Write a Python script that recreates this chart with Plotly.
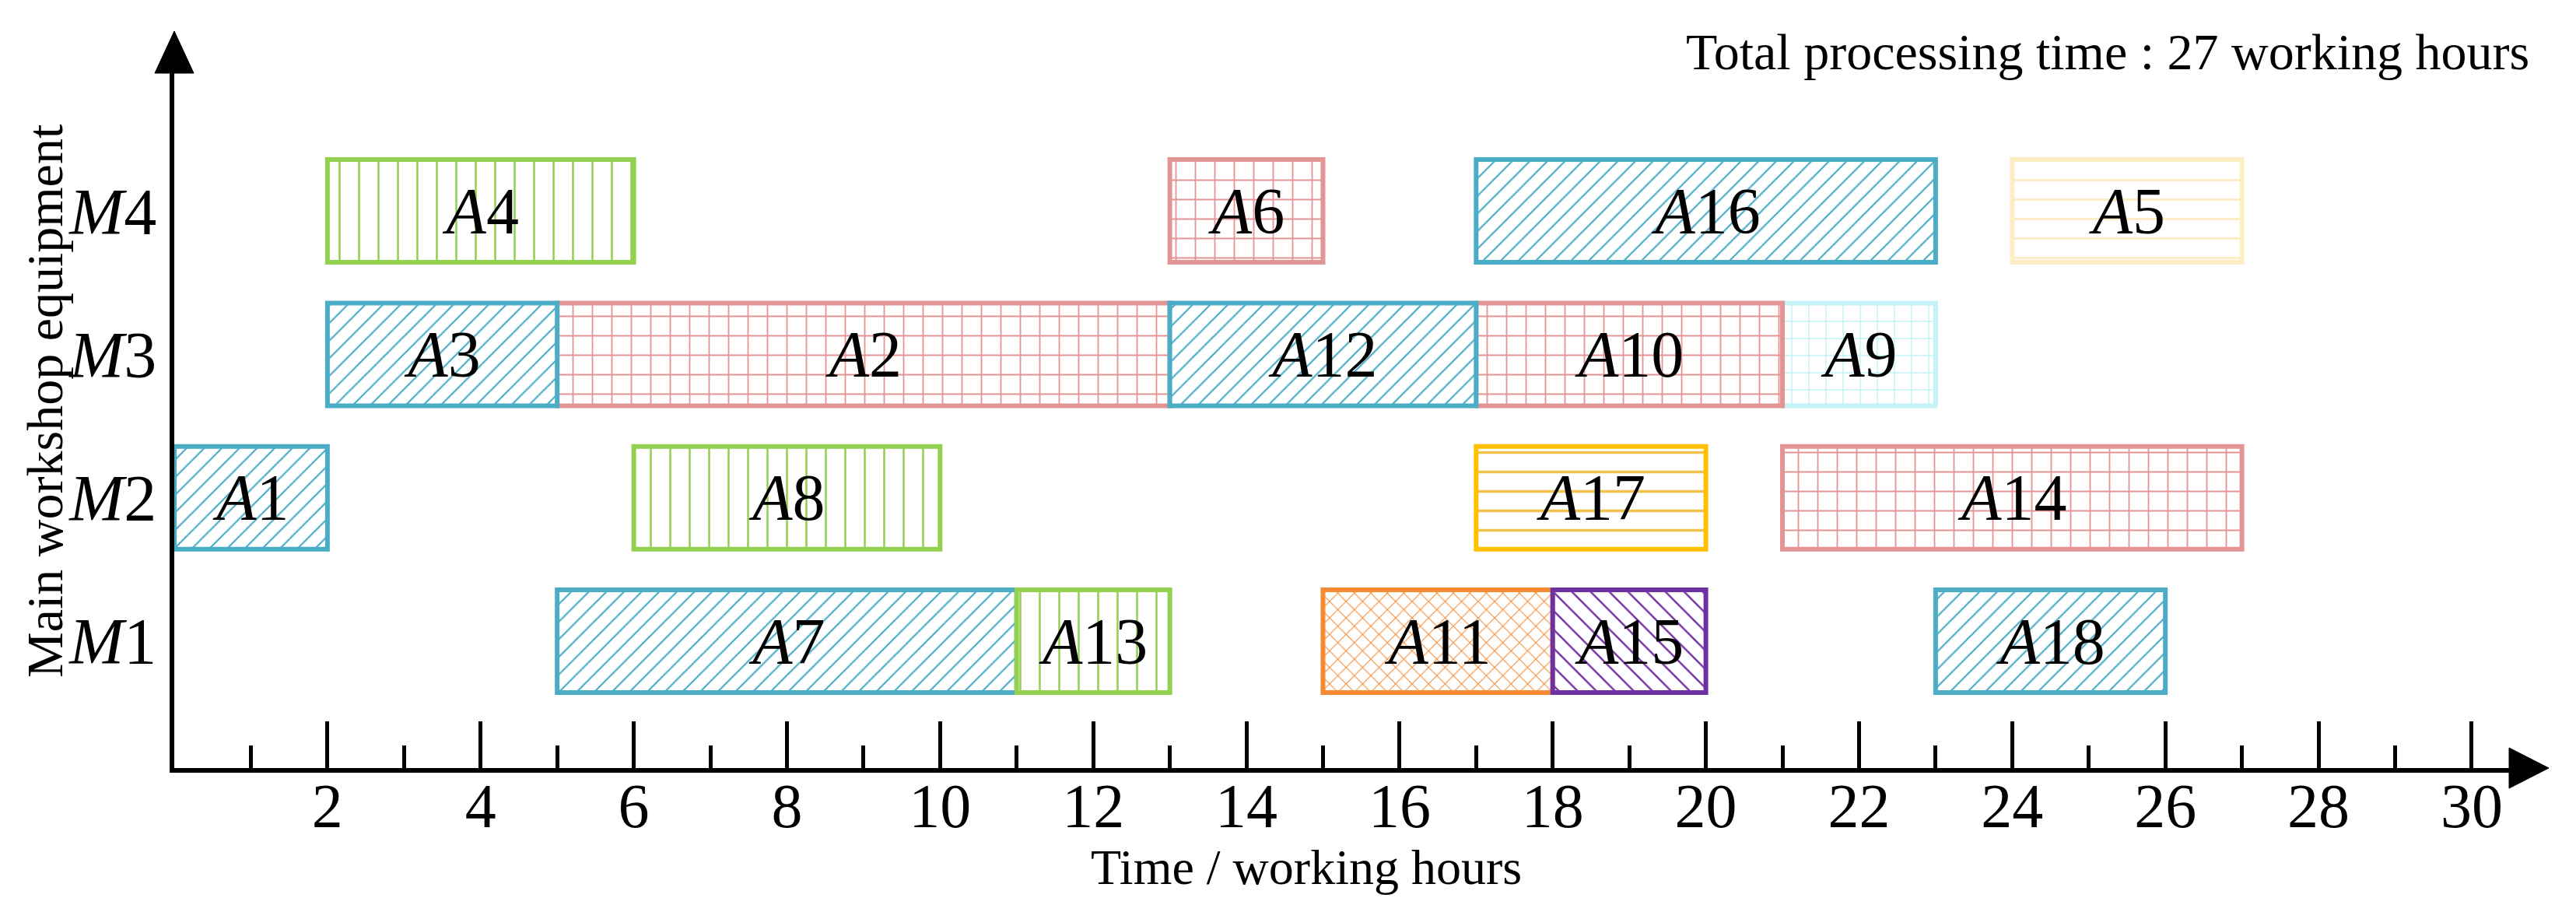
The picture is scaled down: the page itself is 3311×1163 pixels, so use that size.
import plotly.graph_objects as go

# ---------------- data ----------------
machine_pos = [1, 2, 3, 4]
machine_labels = ["<i>M</i>1", "<i>M</i>2", "<i>M</i>3", "<i>M</i>4"]

task_names = ["A1", "A2", "A3", "A4", "A5", "A6", "A7", "A8", "A9",
              "A10", "A11", "A12", "A13", "A14", "A15", "A16", "A17", "A18"]
task_machine = [2, 3, 3, 4, 4, 4, 1, 2, 3, 3, 1, 3, 1, 2, 1, 4, 2, 1]
task_start = [0, 5, 2, 2, 24, 13, 5, 6, 21, 17, 15, 13, 11, 21, 18, 17, 17, 23]
task_end = [2, 13, 5, 6, 27, 15, 11, 10, 23, 21, 18, 17, 13, 27, 20, 23, 20, 26]
task_style = ["blue", "pink", "blue", "green", "paleyellow", "pink", "blue", "green", "cyan",
              "pink", "orange", "blue", "green", "pink", "purple", "blue", "yellow", "blue"]

x_tickvals = [2, 4, 6, 8, 10, 12, 14, 16, 18, 20, 22, 24, 26, 28, 30]
x_minorvals = [1, 3, 5, 7, 9, 11, 13, 15, 17, 19, 21, 23, 25, 27, 29]

total_text = "Total processing time : 27 working hours"
x_title = "Time / working hours"
y_title = "Main workshop equipment"

# ---------------- styles ----------------
styles = {
    "blue": dict(shape="/", line="#4BACC6", fg="#4BACC6", size=16, sol=0.14),
    "green": dict(shape="|", line="#92D050", fg="#92D050", size=25, sol=0.1),
    "pink": dict(shape="+", line="#E39494", fg="#E39494", size=25, sol=0.14),
    "yellow": dict(shape="-", line="#FFC000", fg="#F2C14E", size=25, sol=0.14),
    "paleyellow": dict(shape="-", line="#FCEDC4", fg="#FCEDC4", size=25, sol=0.12),
    "cyan": dict(shape="+", line="#C3F2F7", fg="#C3F2F7", size=22, sol=0.12),
    "orange": dict(shape="x", line="#F58A33", fg="#F58A33", size=15, sol=0.14),
    "purple": dict(shape="\\", line="#7030A0", fg="#7030A0", size=17, sol=0.14),
}

FONT = "Liberation Serif"
W, H = 3311, 1163
L, R, T, B = 224, 86, 94, 176
PW, PH = W - L - R, H - T - B
XUNIT = 98.43
YUNIT = 184.3
x_range = [0, PW / XUNIT]
y_range = [1 - (987 - 824) / YUNIT, 1 + (824 - 94) / YUNIT]


def px2paper_x(px):
    return (px - L) / PW


def px2paper_y(py):
    return (H - B - py) / PH


fig = go.Figure()
for name, m, s, e, st in zip(task_names, task_machine, task_start, task_end, task_style):
    sty = styles[st]
    label = "<i>A</i>" + name[1:]
    fig.add_trace(go.Bar(
        orientation="h",
        y=[m], x=[e - s], base=[s],
        width=0.716,
        marker=dict(
            color="white",
            line=dict(color=sty["line"], width=6),
            pattern=dict(shape=sty["shape"], fgcolor=sty["fg"], bgcolor="white",
                         size=sty["size"], solidity=sty["sol"], fillmode="replace"),
        ),
        text=[label], textposition="inside", insidetextanchor="middle", textangle=0,
        textfont=dict(family=FONT, size=84, color="black"),
        showlegend=False, hoverinfo="skip",
    ))

fig.update_layout(
    width=W, height=H,
    margin=dict(l=L, r=R, t=T, b=B, pad=0),
    paper_bgcolor="white", plot_bgcolor="white",
    barmode="overlay",
    xaxis=dict(
        range=x_range, showgrid=False, zeroline=False,
        showline=True, linecolor="black", linewidth=6,
        tickmode="array", tickvals=x_tickvals,
        ticks="inside", ticklen=60, tickwidth=5, tickcolor="black",
        ticklabelstandoff=-26,
        tickfont=dict(family=FONT, size=80, color="black"),
        minor=dict(tickmode="array", tickvals=x_minorvals, ticks="inside",
                   ticklen=29, tickwidth=5, tickcolor="black", showgrid=False),
    ),
    yaxis=dict(
        range=y_range, showgrid=False, zeroline=False,
        showline=True, linecolor="black", linewidth=6,
        tickmode="array", tickvals=machine_pos, ticktext=machine_labels,
        ticks="", tickfont=dict(family=FONT, size=84, color="black"),
    ),
    font=dict(family=FONT, color="black"),
)

# arrow heads
fig.add_shape(type="path", xref="paper", yref="paper",
              path="M {a},{b} L {c},{d} L {e},{b} Z".format(
                  a=px2paper_x(L - 25), b=px2paper_y(94),
                  c=px2paper_x(L), d=px2paper_y(40), e=px2paper_x(L + 25)),
              fillcolor="black", line=dict(color="black", width=1))
fig.add_shape(type="path", xref="paper", yref="paper",
              path="M {a},{b} L {c},{d} L {a},{e} Z".format(
                  a=px2paper_x(3225), b=px2paper_y(987 - 26),
                  c=px2paper_x(3276), d=px2paper_y(987), e=px2paper_y(987 + 26)),
              fillcolor="black", line=dict(color="black", width=1))

fig.add_annotation(text=total_text, xref="paper", yref="paper",
                   x=px2paper_x(3253), y=px2paper_y(67), xanchor="right", yanchor="middle",
                   showarrow=False, font=dict(family=FONT, size=66, color="black"))
fig.add_annotation(text=x_title, xref="paper", yref="paper",
                   x=px2paper_x(1679), y=px2paper_y(1114), xanchor="center", yanchor="middle",
                   showarrow=False, font=dict(family=FONT, size=64, color="black"))
fig.add_annotation(text=y_title, xref="paper", yref="paper", textangle=-90,
                   x=px2paper_x(57), y=px2paper_y(516), xanchor="center", yanchor="middle",
                   showarrow=False, font=dict(family=FONT, size=66, color="black"))

fig.write_html("out.html", config={"displayModeBar": False},
               post_script="document.body.style.margin='0';")
